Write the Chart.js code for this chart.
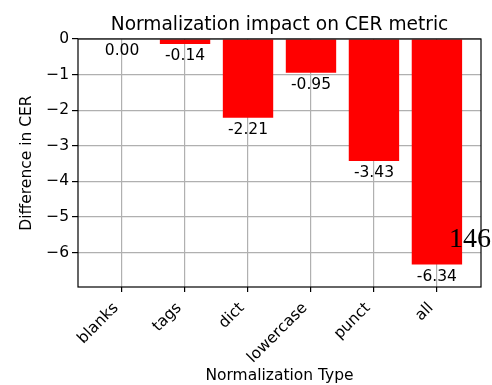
<!DOCTYPE html>
<html>
<head>
<meta charset="utf-8">
<script src="https://cdn.jsdelivr.net/npm/chart.js@4.4.0/dist/chart.umd.min.js"></script>
<style>
  body { margin: 0; background: #fff; }
</style>
</head>
<body>
<canvas id="myChart" width="492" height="385"></canvas>
<script>
// values
const categories = ['blanks', 'tags', 'dict', 'lowercase', 'punct', 'all'];
const cerDiff = [0.00, -0.14, -2.21, -0.95, -3.43, -6.34];
const yTicks = [0, -1, -2, -3, -4, -5, -6];
const yMin = -6.97, yMax = 0;
const xMin = -0.7, xMax = 5.7;
const chartTitle = 'Normalization impact on CER metric';
const pageNote = '146';

const FONT = "'DejaVu Sans', sans-serif";

// value labels just under each bar end
const barLabels = {
    id: 'barLabels',
    afterDatasetsDraw(chart) {
        const ctx = chart.ctx;
        const meta = chart.getDatasetMeta(0);
        ctx.save();
        ctx.font = "15.5px " + FONT;
        ctx.fillStyle = '#000';
        ctx.textAlign = 'center';
        ctx.textBaseline = 'alphabetic';
        meta.data.forEach((bar, i) => {
            ctx.fillText(cerDiff[i].toFixed(2), bar.x, bar.y + 16);
        });
        ctx.restore();
    }
};

// black box round the plot, title centred over the plot, stray page number
const frame = {
    id: 'frame',
    afterDraw(chart) {
        const ctx = chart.ctx;
        const a = chart.chartArea;
        ctx.save();
        ctx.strokeStyle = '#000';
        ctx.lineWidth = 1.2;
        ctx.strokeRect(a.left, a.top, a.right - a.left, a.bottom - a.top);

        ctx.fillStyle = '#000';
        ctx.textBaseline = 'alphabetic';
        ctx.textAlign = 'center';
        ctx.font = "18.6px " + FONT;
        ctx.fillText(chartTitle, (a.left + a.right) / 2, 30);

        ctx.textAlign = 'left';
        ctx.font = "28px 'Liberation Serif', serif";
        ctx.fillText(pageNote, 449, 247);
        ctx.restore();
    }
};

const tickFont = { family: FONT, size: 15.5 };

new Chart(document.getElementById('myChart').getContext('2d'), {
    type: 'bar',
    data: {
        datasets: [{
            data: cerDiff.map((v, i) => ({ x: i, y: v })),
            backgroundColor: '#ff0000',
            borderWidth: 0,
            barPercentage: 0.8,
            categoryPercentage: 1.0
        }]
    },
    options: {
        responsive: false,
        animation: false,
        layout: { padding: { left: 0, right: 11, top: 39, bottom: 0 } },
        plugins: {
            legend: { display: false },
            tooltip: { enabled: false },
            title: { display: false }
        },
        scales: {
            x: {
                type: 'linear',
                min: xMin,
                max: xMax,
                offset: false,
                z: 1,
                border: { display: false },
                grid: { offset: false, color: '#b0b0b0', lineWidth: 1.2, tickColor: '#000', tickLength: 5, tickWidth: 1.2 },
                ticks: {
                    autoSkip: false,
                    minRotation: 45,
                    maxRotation: 45,
                    padding: 7,
                    labelOffset: -6,
                    color: '#000',
                    font: tickFont,
                    callback: (v) => categories[v]
                },
                afterBuildTicks: (axis) => { axis.ticks = categories.map((c, i) => ({ value: i })); },
                afterFit: (axis) => { axis.height = 98; },
                title: {
                    display: true,
                    text: 'Normalization Type',
                    color: '#000',
                    font: tickFont,
                    padding: { top: 0, bottom: 0 }
                }
            },
            y: {
                min: yMin,
                max: yMax,
                z: 1,
                border: { display: false },
                grid: { color: '#b0b0b0', lineWidth: 1.2, tickColor: '#000', tickLength: 6, tickWidth: 1.2 },
                ticks: {
                    padding: 3,
                    color: '#000',
                    font: tickFont,
                    callback: (v) => v < 0 ? '\u2212' + Math.abs(v) : String(v)
                },
                afterBuildTicks: (axis) => { axis.ticks = yTicks.map(v => ({ value: v })); },
                afterFit: (axis) => { axis.width = 78; },
                title: {
                    display: true,
                    text: 'Difference in CER',
                    color: '#000',
                    font: tickFont,
                    padding: { top: 18, bottom: 0 }
                }
            }
        }
    },
    plugins: [barLabels, frame]
});
</script>
</body>
</html>
